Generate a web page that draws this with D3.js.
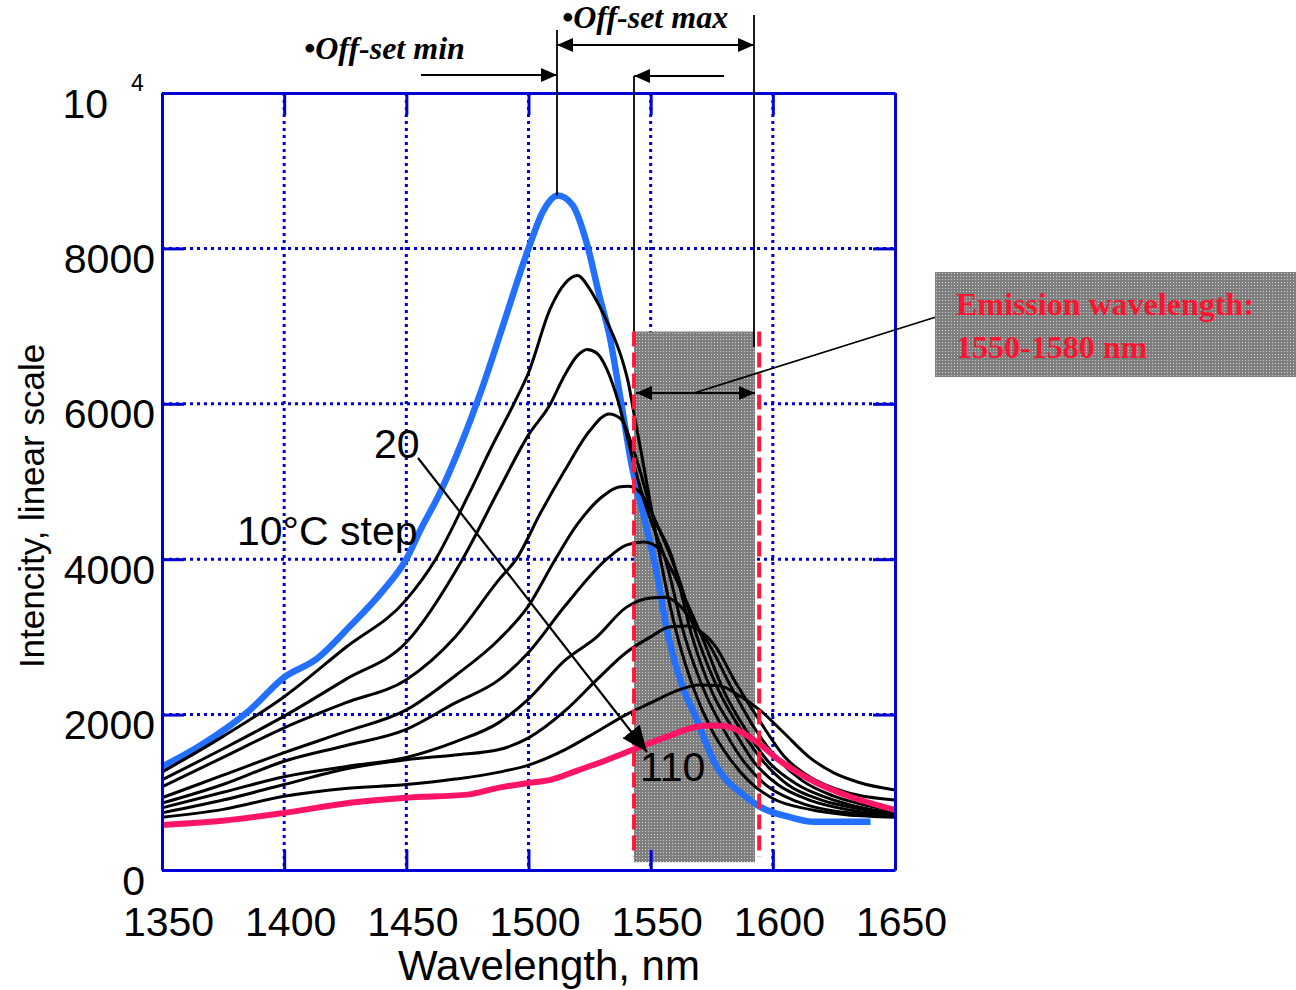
<!DOCTYPE html>
<html>
<head>
<meta charset="utf-8">
<script src="https://cdn.jsdelivr.net/npm/d3@7"></script>
<style>
  body { margin: 0; background: #fff; }
  svg { display: block; }
</style>
</head>
<body>
<svg id="chart" width="1296" height="990"></svg>
<script>
// ---- axis ticks ----
const wavelengthTicks = [1350, 1400, 1450, 1500, 1550, 1600, 1650];
const intensityTicks = [0, 2000, 4000, 6000, 8000, 10000];

// ---- emission spectra, one per temperature (10 °C step, 20..110 °C) ----
const wl20  = [1350,1365,1386,1400,1413,1427,1440,1450,1456,1464,1472,1481,1490,1500,1506,1512,1518,1524,1529,1533,1538,1542,1548,1553,1556,1563,1568,1577,1587,1595,1607,1617,1640];
const int20 = [1330,1590,2060,2480,2710,3140,3580,4000,4390,4870,5450,6200,7050,8000,8480,8680,8560,8050,7390,6900,6000,5250,4450,3740,3190,2360,2000,1330,990,810,680,620,620];

const wl30  = [1350,1375,1400,1425,1450,1462,1475,1485,1494,1500,1509,1515,1520,1525,1529,1533,1538,1541,1543,1546,1550,1554,1561,1568,1575,1582,1590,1600,1615,1630,1650];
const int30 = [1260,1720,2230,2860,3480,4000,4800,5450,6000,6400,7230,7550,7650,7480,7260,7000,6600,6250,5900,5400,4700,4000,3000,2300,1800,1450,1150,920,780,710,680];

const wl40  = [1350,1375,1400,1425,1450,1473,1488,1500,1509,1514,1520,1524,1528,1532,1537,1541,1545,1550,1556,1564,1572,1580,1588,1597,1610,1625,1650];
const int40 = [1160,1560,1980,2450,2930,4000,4900,5600,6000,6320,6620,6700,6650,6450,6000,5500,5000,4500,4000,3000,2300,1800,1400,1100,880,760,700];

const wl50  = [1350,1375,1400,1425,1450,1470,1488,1495,1505,1515,1525,1533,1538,1542,1546,1550,1559,1567,1575,1584,1592,1602,1615,1630,1650];
const int50 = [1070,1450,1830,2150,2450,3000,3740,4000,4600,5150,5650,5870,5800,5500,5100,4650,4000,3000,2300,1800,1400,1100,900,780,710];

const wl60  = [1350,1375,1400,1425,1450,1470,1488,1500,1511,1520,1530,1537,1541,1546,1551,1556,1561,1569,1578,1587,1596,1606,1620,1635,1650];
const int60 = [930,1220,1510,1780,2060,2500,2970,3400,4000,4450,4800,4930,4940,4850,4550,4200,3800,3000,2300,1800,1400,1100,900,790,725];

const wl70  = [1350,1375,1400,1425,1450,1470,1488,1500,1515,1532,1540,1547,1553,1558,1564,1571,1580,1589,1598,1610,1625,1640,1650];
const int70 = [860,1100,1400,1600,1810,2150,2450,2800,3400,4000,4180,4220,4150,3900,3500,3000,2300,1800,1400,1100,900,780,740];

const wl80  = [1350,1375,1400,1425,1450,1470,1488,1500,1515,1528,1540,1550,1556,1562,1568,1573,1583,1592,1600,1612,1625,1640,1650];
const int80 = [800,1000,1200,1330,1450,1650,1900,2200,2700,3000,3380,3500,3510,3400,3150,2950,2350,1850,1500,1150,950,820,760];

const wl90  = [1350,1375,1400,1425,1450,1470,1488,1500,1515,1528,1540,1550,1558,1565,1570,1576,1585,1595,1605,1615,1630,1650];
const int90 = [735,900,1100,1300,1420,1480,1550,1700,2050,2450,2800,3000,3130,3140,3080,2900,2400,1900,1450,1200,1000,900];

const wl100  = [1350,1375,1400,1425,1450,1470,1488,1500,1515,1528,1540,1550,1560,1570,1578,1586,1595,1605,1615,1625,1635,1650];
const int100 = [680,780,950,1050,1100,1170,1260,1350,1550,1780,2000,2150,2300,2380,2370,2250,2050,1750,1450,1250,1130,1030];

const wl110  = [1350,1370,1400,1427,1450,1475,1488,1500,1509,1520,1529,1543,1557,1570,1576,1581,1592,1604,1618,1632,1650];
const int110 = [580,620,735,865,930,970,1060,1120,1160,1280,1380,1550,1720,1850,1860,1850,1680,1380,1120,940,775];

// callout text for the emission window
const windowText = ["Emission wavelength:", "1550-1580 nm"];

// ---- geometry ----
const svg = d3.select("#chart");
const plotL = 162, plotR = 895, plotT = 93, plotB = 870;
const x = d3.scaleLinear().domain([1350, 1650]).range([plotL, plotR]);
const y = d3.scaleLinear().domain([0, 10000]).range([plotB, plotT]);

const AXIS_BLUE = "#0000d2";
const SANS = "'Liberation Sans', Arial, sans-serif";
const SERIF = "'Liberation Serif', 'Times New Roman', serif";

// shaded band and its dashed borders, in wavelength units
const bandFrom = 1543.2, bandTo = 1592.7;
const dashAt = [1543.2, 1594.4];

// ---- defs: stipple texture and arrowheads ----
const defs = svg.append("defs");
const pat = defs.append("pattern").attr("id", "stipple")
  .attr("width", 3).attr("height", 3).attr("patternUnits", "userSpaceOnUse");
pat.append("rect").attr("width", 3).attr("height", 3).attr("fill", "#7e7e7e");
pat.append("rect").attr("width", 1).attr("height", 1).attr("fill", "#cfcfcf");

function arrowMarker(id, len, half) {
  defs.append("marker").attr("id", id)
    .attr("viewBox", `0 ${-half} ${len} ${2 * half}`)
    .attr("refX", len).attr("refY", 0)
    .attr("markerWidth", len).attr("markerHeight", 2 * half)
    .attr("markerUnits", "userSpaceOnUse")
    .attr("orient", "auto-start-reverse")
    .append("path").attr("d", `M0,${-half}L${len},0L0,${half}Z`).attr("fill", "#000");
}
arrowMarker("head", 16, 7);
arrowMarker("bighead", 26, 11);

// ---- dotted grid ----
const grid = svg.append("g");
grid.selectAll("line.gx").data(wavelengthTicks.slice(1, -1)).join("line")
  .attr("x1", d => x(d)).attr("x2", d => x(d)).attr("y1", plotT).attr("y2", plotB)
  .attr("stroke", AXIS_BLUE).attr("stroke-width", 3).attr("stroke-dasharray", "3,4");
grid.selectAll("line.gy").data(intensityTicks.slice(1, -1)).join("line")
  .attr("x1", plotL).attr("x2", plotR).attr("y1", d => y(d)).attr("y2", d => y(d))
  .attr("stroke", AXIS_BLUE).attr("stroke-width", 3).attr("stroke-dasharray", "3,4");

// ---- grey emission window ----
svg.append("rect")
  .attr("x", x(bandFrom)).attr("y", y(6930))
  .attr("width", x(bandTo) - x(bandFrom)).attr("height", y(100) - y(6930))
  .attr("fill", "url(#stipple)");

// ---- spectra ----
const line = d3.line().x(d => x(d[0])).y(d => y(d[1])).curve(d3.curveMonotoneX);
const zipSeries = (w, v) => w.map((d, i) => [d, v[i]]);
const blackSeries = [[wl30, int30], [wl40, int40], [wl50, int50], [wl60, int60],
                     [wl70, int70], [wl80, int80], [wl90, int90], [wl100, int100]];

svg.append("path").datum(zipSeries(wl20, int20)).attr("d", line)
  .attr("fill", "none").attr("stroke", "#2370ff").attr("stroke-width", 6.5);
svg.append("g").selectAll("path").data(blackSeries).join("path")
  .attr("d", s => line(zipSeries(s[0], s[1])))
  .attr("fill", "none").attr("stroke", "#000").attr("stroke-width", 3);
svg.append("path").datum(zipSeries(wl110, int110)).attr("d", line)
  .attr("fill", "none").attr("stroke", "#ff1466").attr("stroke-width", 6);

// ---- red dashed window limits ----
svg.append("g").selectAll("line").data(dashAt).join("line")
  .attr("x1", d => x(d)).attr("x2", d => x(d))
  .attr("y1", y(6930)).attr("y2", y(170))
  .attr("stroke", "#ff1a3c").attr("stroke-width", 4).attr("stroke-dasharray", "15,6");

// ---- axes: frame, inward ticks, labels ----
const axStyle = g => {
  g.select(".domain").attr("stroke", AXIS_BLUE).attr("stroke-width", 3);
  g.selectAll(".tick line").attr("stroke", AXIS_BLUE).attr("stroke-width", 3);
};
svg.append("g").attr("transform", `translate(0,${plotT})`)
  .call(d3.axisTop(x).tickValues(wavelengthTicks).tickSize(-22).tickSizeOuter(0).tickFormat(""))
  .call(axStyle);
svg.append("g").attr("transform", `translate(${plotR},0)`)
  .call(d3.axisRight(y).tickValues(intensityTicks).tickSize(-22).tickSizeOuter(0).tickFormat(""))
  .call(axStyle);

const xAxis = svg.append("g").attr("transform", `translate(0,${plotB})`)
  .call(d3.axisBottom(x).tickValues(wavelengthTicks).tickSize(-20).tickSizeOuter(0)
    .tickFormat(d3.format("d")))
  .call(axStyle);
xAxis.selectAll(".tick text")
  .attr("y", 66).attr("dy", 0).attr("dx", 6)
  .attr("font-family", SANS).attr("font-size", 41).attr("fill", "#000");

const yAxis = svg.append("g").attr("transform", `translate(${plotL},0)`)
  .call(d3.axisLeft(y).tickValues(intensityTicks).tickSize(-22).tickSizeOuter(0)
    .tickFormat(d => d === 10000 ? "10" : String(d)))
  .call(axStyle);
yAxis.selectAll(".tick text")
  .attr("x", d => d === 0 ? -17 : (d === 10000 ? -54 : -7)).attr("y", 24).attr("dy", 0)
  .attr("font-family", SANS).attr("font-size", 41).attr("fill", "#000");
// exponent of the top tick
svg.append("text").attr("x", 131).attr("y", 91)
  .attr("font-family", SANS).attr("font-size", 23).text("4");

// axis titles
svg.append("text").attr("x", 549).attr("y", 980).attr("text-anchor", "middle")
  .attr("font-family", SANS).attr("font-size", 42).text("Wavelength, nm");
svg.append("text").attr("transform", "translate(44,506) rotate(-90)")
  .attr("text-anchor", "middle").attr("font-family", SANS).attr("font-size", 35)
  .text("Intencity, linear scale");

// ---- temperature annotations ----
svg.append("text").attr("x", 374).attr("y", 458)
  .attr("font-family", SANS).attr("font-size", 41).text("20");
svg.append("text").attr("x", 237).attr("y", 545)
  .attr("font-family", SANS).attr("font-size", 41).text("10°C step");
svg.append("text").attr("x", 640).attr("y", 781)
  .attr("font-family", SANS).attr("font-size", 41).text("110");
svg.append("line").attr("x1", 418).attr("y1", 458).attr("x2", 647).attr("y2", 752)
  .attr("stroke", "#000").attr("stroke-width", 2.2).attr("marker-end", "url(#bighead)");

// ---- offset annotations above the plot ----
const ann = svg.append("g").attr("stroke", "#000").attr("stroke-width", 1.8);
ann.append("line").attr("x1", 557).attr("x2", 557).attr("y1", 30).attr("y2", y(8680));
ann.append("line").attr("x1", 754).attr("x2", 754).attr("y1", 15).attr("y2", 347);
ann.append("line").attr("x1", 634).attr("x2", 634).attr("y1", 76).attr("y2", y(6930));
ann.append("line").attr("x1", 421).attr("x2", 557).attr("y1", 75).attr("y2", 75)
  .attr("marker-end", "url(#head)");
ann.append("line").attr("x1", 557).attr("x2", 754).attr("y1", 45).attr("y2", 45)
  .attr("marker-start", "url(#head)").attr("marker-end", "url(#head)");
ann.append("line").attr("x1", 724).attr("x2", 634).attr("y1", 76).attr("y2", 76)
  .attr("marker-end", "url(#head)");
// span of the emission window
ann.append("line").attr("x1", 636).attr("x2", 755).attr("y1", 393).attr("y2", 393)
  .attr("marker-start", "url(#head)").attr("marker-end", "url(#head)");
ann.append("line").attr("x1", 694).attr("x2", 936).attr("y1", 393).attr("y2", 317);

svg.append("text").attr("x", 304).attr("y", 59)
  .attr("font-family", SERIF).attr("font-weight", "bold").attr("font-style", "italic")
  .attr("font-size", 32).text("•Off-set min");
svg.append("text").attr("x", 562).attr("y", 28)
  .attr("font-family", SERIF).attr("font-weight", "bold").attr("font-style", "italic")
  .attr("font-size", 32).text("•Off-set max");

// ---- emission wavelength callout ----
svg.append("rect").attr("x", 935).attr("y", 272).attr("width", 361).attr("height", 105)
  .attr("fill", "url(#stipple)");
svg.append("g").selectAll("text").data(windowText).join("text")
  .attr("x", 956).attr("y", (d, i) => 315 + i * 43)
  .attr("font-family", SERIF).attr("font-weight", "bold").attr("font-size", 32)
  .attr("fill", "#ff1430").text(d => d);
</script>
</body>
</html>
